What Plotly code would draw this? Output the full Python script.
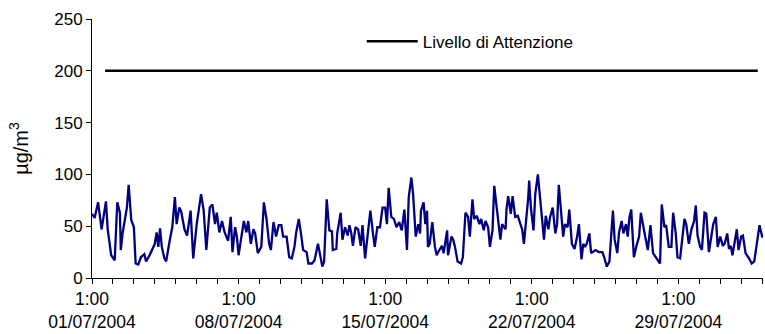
import pandas as pd
import plotly.graph_objects as go

# hourly NO2 (µg/m3), hours after 01/07/2004 01:00
hours = [0,3,7,11,16,18,22,26,29,32,33,35,38,40,42,45,48,50,53,56,
         60,62,66,72,74,76,78,80,83,85,89,92,95,97,100,102,106,109,113,116,
         120,123,125,128,131,135,138,141,143,146,149,152,156,159,161,164,166,168,171,174,
         177,179,182,185,187,
         190,194,197,200,203,205,208,211,214,217,219,223,226,229,232,234,237,240,242,246,
         248,252,255,259,262,264,266,269,272,275,276,280,281,285,287,290,293,295,297,299,
         302,305,308,310,313,317,319,322,324,327,330,333,336,338,340,343,346,349,352,355,
         358,361,363,366,368,371,374,376,
         377,380,382,384,385,387,390,393,395,398,401,403,407,408,412,414,416,419,423,425,
         428,431,433,436,438,441,444,446,449,451,454,456,459,461,463,465,468,470,474,475,
         477,480,482,485,488,491,493,495,497,500,501,503,506,508,511,513,515,518,520,523,
         525,528,531,533,535,538,540,542,545,547,550,553,556,558,561,563,565,
         567,570,572,577,581,585,587,590,593,597,599,602,604,607,609,612,614,616,618,621,
         624,627,629,632,634,637,640,643,646,648,651,653,656,658,661,664,666,669,671,674,
         676,679,681,684,687,690,692,694,697,699,702,704,707,710,712,715,717,720,723,725,
         728,730,732,734,737,739,741,744,746,749,753,756,759,761,764,765,768,769]
values = [62,58,73,47,74,47,22,17,73,63,27,43,58,68,90,56,49,14,13,20,
          23,16,22,33,44,30,48,30,19,16,36,49,78,52,68,65,47,41,65,19,
          52,71,81,65,27,68,71,52,63,44,55,44,36,59,25,49,40,22,37,55,
          44,55,33,47,43,
          24,30,73,57,33,27,54,40,51,51,40,40,20,19,30,44,57,40,27,25,
          14,14,17,33,20,11,16,76,46,45,27,28,43,63,37,49,41,51,44,31,
          49,47,31,51,19,52,65,43,30,49,49,68,68,52,87,59,57,49,54,46,
          66,27,78,97,81,40,52,43,
          65,73,52,65,30,33,54,30,22,27,31,24,46,22,40,37,30,16,14,20,
          63,59,40,76,57,60,52,57,46,55,49,30,46,89,74,63,37,52,47,66,
          79,62,79,59,60,52,47,33,49,78,94,68,46,81,100,84,65,37,60,47,
          59,68,43,52,90,60,40,52,49,66,33,28,40,52,18,33,30,
          33,43,24,27,25,25,20,11,16,65,37,24,44,55,43,52,40,59,66,20,
          31,40,63,47,40,27,51,24,20,17,14,71,49,51,30,30,63,43,20,19,
          37,57,52,33,47,55,70,41,30,27,63,62,25,40,52,59,30,40,31,33,
          43,28,31,22,37,47,27,40,41,24,19,14,16,28,44,51,40,39]

attention_hours = [15, 763]
attention_values = [200, 200]
attention_name = "Livello di Attenzione"

tick_days = [0, 7, 14, 21, 28]
tick_labels = ["1:00<br>01/07/2004", "1:00<br>08/07/2004", "1:00<br>15/07/2004",
               "1:00<br>22/07/2004", "1:00<br>29/07/2004"]
y_title = "µg/m<sup>3</sup>"

start = pd.Timestamp("2004-07-01 01:00")
x = [start + pd.Timedelta(hours=h) for h in hours]
xa = [start + pd.Timedelta(hours=h) for h in attention_hours]
tickvals = [start + pd.Timedelta(days=d) for d in tick_days]

FONT = "Liberation Sans, Arial, sans-serif"

fig = go.Figure()
fig.add_trace(go.Scatter(x=x, y=values, mode="lines", showlegend=False,
                         line=dict(color="#000080", width=2.3)))
fig.add_trace(go.Scatter(x=xa, y=attention_values, mode="lines", name=attention_name,
                         line=dict(color="black", width=2.5)))

fig.update_layout(
    width=765, height=334,
    margin=dict(l=92, r=2, t=19, b=52),
    paper_bgcolor="white", plot_bgcolor="white",
    font=dict(family=FONT, size=17, color="black"),
    legend=dict(x=0.402, y=0.9125, xanchor="left", yanchor="middle",
                bgcolor="rgba(0,0,0,0)", itemwidth=51, font=dict(size=17)),
)
fig.update_xaxes(
    range=[start, start + pd.Timedelta(hours=769)],
    tickvals=tickvals, ticktext=tick_labels,
    ticks="outside", ticklen=5, tickcolor="black", tickwidth=1,
    showline=True, linecolor="black", linewidth=1,
    showgrid=False, zeroline=False,
    minor=dict(ticks="outside", ticklen=5, tickcolor="black",
               dtick=86400000, tick0=start, showgrid=False),
    tickfont=dict(size=17.5),
)
fig.update_yaxes(
    range=[0, 250], dtick=50,
    ticks="outside", ticklen=5, tickcolor="black", tickwidth=1,
    showline=True, linecolor="black", linewidth=1,
    showgrid=False, zeroline=False,
    tickfont=dict(size=17),
    title=dict(text=y_title, font=dict(size=20), standoff=20),
)

fig.write_html("out.html")
